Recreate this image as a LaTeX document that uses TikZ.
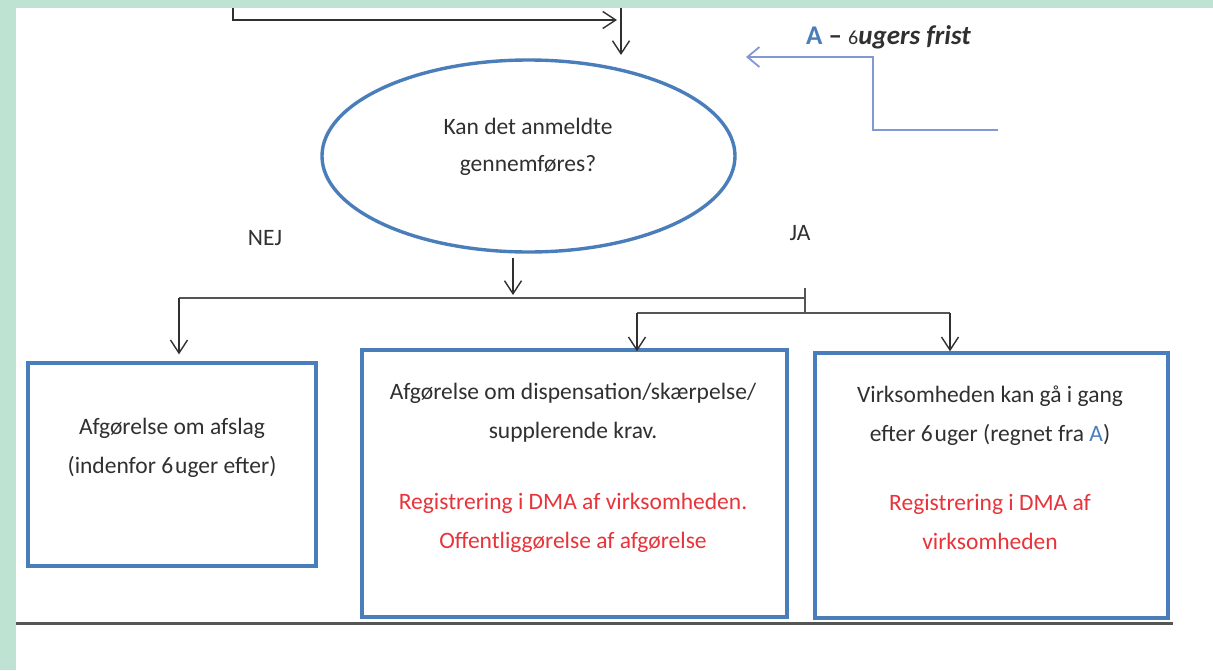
\documentclass[tikz,border=0pt]{standalone}
\usepackage{fontspec}
\setmainfont{Carlito}
\usetikzlibrary{arrows.meta,shapes.geometric,positioning}

\definecolor{framegreen}{HTML}{BFE3D3}
\definecolor{shapeblue}{HTML}{4A7EBB}
\definecolor{feedblue}{HTML}{8099D3}
\definecolor{ink}{HTML}{303030}
\definecolor{alertred}{HTML}{E8333A}
\definecolor{railgray}{HTML}{555555}

\tikzset{
  flow/.style={draw=ink, line width=1.4pt, -{Straight Barb[length=13pt,width=17pt]}},
  feed/.style={draw=feedblue, line width=1.8pt, -{Straight Barb[length=12pt,width=20pt]}},
  rail/.style={draw=railgray, line width=2.6pt},
  outcome/.style={draw=shapeblue, line width=3.4pt, inner sep=0pt},
  caption/.style={align=center, text=ink, font=\fontsize{23.5}{39}\selectfont},
}

\begin{document}
\begin{tikzpicture}[x=1pt,y=-1pt]
  \fill[framegreen] (0,0) rectangle (1213,670);
  \fill[white] (16,8) rectangle (1213,670);
  \useasboundingbox (0,0) rectangle (1213,670);

  % decision
  \node[ellipse, draw=shapeblue, line width=3.4pt, minimum width=413, minimum height=192] (ask) at (528.5,156) {};
  \node[caption, font=\fontsize{23.5}{37}\selectfont] (askText) at (528,146.5) {Kan det anmeldte\\gennemføres?};

  % incoming lines
  \coordinate (inL) at (233,8);
  \coordinate (inLend) at (617,20);
  \coordinate (inR) at (621,8);
  \coordinate (inRend) at (621,55);
  \draw[flow] (inL) |- (inLend);
  \draw[flow] (inR) -- (inRend);

  % deadline
  \node[anchor=base west, inner sep=0pt, font=\fontsize{27}{30}\selectfont] (deadline) at (806,44)
    {\textcolor{shapeblue}{\textbf{A}}\ \textcolor{ink}{\textbf{–}\ {\fontsize{20}{20}\selectfont 6}\textbf{\itshape ugers frist}}};
  \coordinate (fbStart) at (998,130);
  \coordinate (fbBend) at (873,57);
  \coordinate (fbEnd) at (746,57);
  \draw[feed] (fbStart) -| (fbBend) -- (fbEnd);

  % answers
  \node[caption] (no) at (265,238) {NEJ};
  \node[caption] (yes) at (800,233) {JA};

  % fork
  \coordinate (fork) at (513,258);
  \coordinate (forkEnd) at (513,295);
  \coordinate (railL) at (179,298);
  \coordinate (railR) at (805,298);
  \coordinate (tickTop) at (805,288);
  \coordinate (tickBot) at (805,313);
  \coordinate (rail2L) at (637,313);
  \coordinate (rail2R) at (950,313);
  \draw[flow] (fork) -- (forkEnd);
  \draw[rail] (railL) -- (railR);
  \draw[rail, line width=1.6pt] (tickTop) -- (tickBot);
  \draw[rail] (rail2L) -- (rail2R);

  % outcomes
  \draw[rail, line width=3pt] (16,623) -- (1173,623);
  \node[outcome, minimum width=288, minimum height=203] (reject) at (172,464.5) {};
  \node[outcome, minimum width=425, minimum height=267] (disp) at (574.5,483.5) {};
  \node[outcome, minimum width=353, minimum height=265] (go) at (991.5,485.5) {};

  \draw[flow, shorten >=7pt] (railL) -- (railL |- reject.north);
  \draw[flow, shorten >=-3pt] (rail2L) -- (rail2L |- disp.north);
  \draw[flow] (rail2R) -- (rail2R |- go.north);

  \node[caption] (rejectText) at (172,448) {Afgørelse om afslag\\(indenfor 6\kern2pt uger efter)};
  \node[caption] (dispText) at (573,467.5) {Afgørelse om dispensation/skærpelse/\\supplerende krav.\\[32pt]
    \textcolor{alertred}{Registrering i DMA af virksomheden.}\\\textcolor{alertred}{Offentliggørelse af afgørelse}};
  \node[caption] (goText) at (990,468) {Virksomheden kan gå i gang\\efter 6\kern2pt uger (regnet fra \textcolor{shapeblue}{A})\\[30pt]
    \textcolor{alertred}{Registrering i DMA af}\\\textcolor{alertred}{virksomheden}};
\end{tikzpicture}
\end{document}
